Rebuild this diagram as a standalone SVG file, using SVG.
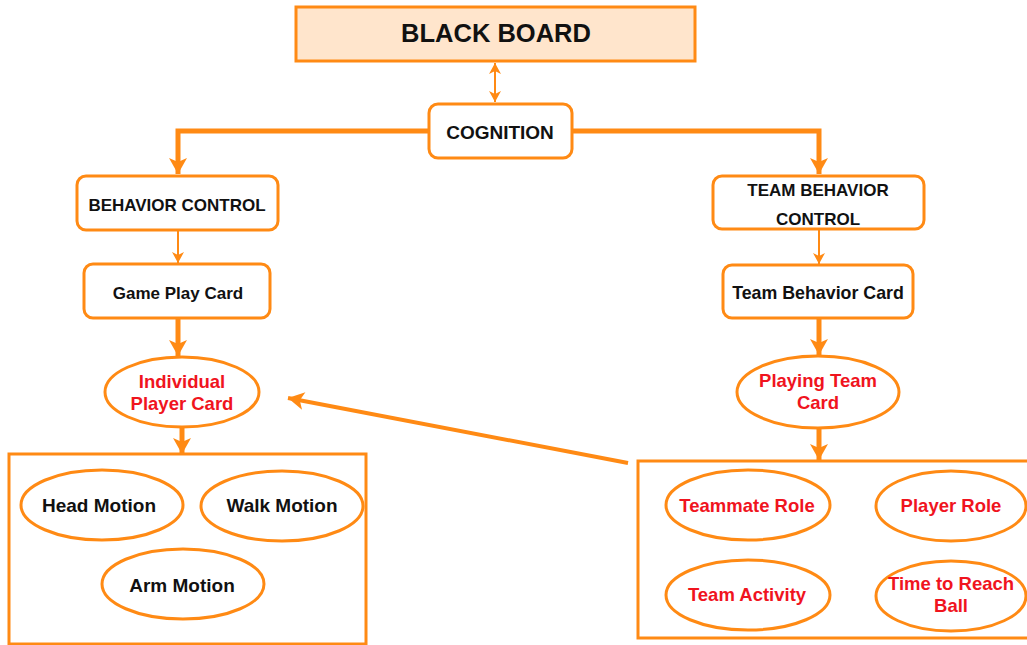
<svg xmlns="http://www.w3.org/2000/svg" width="1027" height="645" viewBox="0 0 1027 645">
  <style>
    .box { fill: #ffffff; stroke: #FF8A14; stroke-width: 3; }
    .bb { fill: #FFE5CC; stroke: #FF8A14; stroke-width: 3; }
    .ell { fill: #ffffff; stroke: #FF8A14; stroke-width: 3; }
    .frame { fill: none; stroke: #FF8A14; stroke-width: 3; }
    .t { font-family: "Liberation Sans", Arial, sans-serif; font-weight: bold; fill: #111111; text-anchor: middle; }
    .r { fill: #F0141E; }
    .thick { fill: none; stroke: #FF8A14; stroke-width: 5; }
    .thin { fill: none; stroke: #FF8A14; stroke-width: 2; }
    .mid { fill: none; stroke: #FF8A14; stroke-width: 4; }
    .head { fill: #FF8A14; }
  </style>
  <defs>
    <marker id="big" markerUnits="userSpaceOnUse" markerWidth="20" markerHeight="20" refX="17" refY="10" orient="auto">
      <path class="head" d="M1,1 L17,10 L1,19 L5,10 Z"/>
    </marker>
    <marker id="small" markerUnits="userSpaceOnUse" markerWidth="14" markerHeight="14" refX="11" refY="7" orient="auto">
      <path class="head" d="M0,1 L11,7 L0,13 L3,7 Z"/>
    </marker>
    <marker id="smallS" markerUnits="userSpaceOnUse" markerWidth="14" markerHeight="14" refX="11" refY="7" orient="auto-start-reverse">
      <path class="head" d="M0,1 L11,7 L0,13 L3,7 Z"/>
    </marker>
  </defs>

  <g id="connectors">
    <line class="thin" x1="495" y1="63" x2="495" y2="102" marker-start="url(#smallS)" marker-end="url(#small)"/>
    <polyline class="thick" points="429,131 178,131 178,174" marker-end="url(#big)"/>
    <polyline class="thick" points="572,131 819,131 819,174" marker-end="url(#big)"/>
    <line class="thin" x1="178" y1="230" x2="178" y2="263" marker-end="url(#small)"/>
    <line class="thin" x1="819" y1="229" x2="819" y2="264" marker-end="url(#small)"/>
    <line class="thick" x1="178" y1="318" x2="178" y2="356" marker-end="url(#big)"/>
    <line class="thick" x1="819" y1="318" x2="819" y2="355" marker-end="url(#big)"/>
    <line class="thick" x1="182" y1="428" x2="182" y2="454" marker-end="url(#big)"/>
    <line class="thick" x1="819" y1="428" x2="819" y2="460" marker-end="url(#big)"/>
    <line class="mid" x1="628" y1="463" x2="288" y2="398" marker-end="url(#big)"/>
  </g>

  <g id="blackboard">
    <rect class="bb" x="296" y="7" width="399" height="54"/>
    <text class="t" x="496" y="42" font-size="25.5">BLACK BOARD</text>
  </g>

  <g id="cognition">
    <rect class="box" x="429" y="104" width="143" height="54" rx="9"/>
    <text class="t" x="500" y="139" font-size="19">COGNITION</text>
  </g>

  <g id="behavior-control">
    <rect class="box" x="77" y="176" width="201" height="54" rx="9"/>
    <text class="t" x="177" y="211" font-size="17">BEHAVIOR CONTROL</text>
  </g>

  <g id="game-play-card">
    <rect class="box" x="84" y="264" width="186" height="54" rx="9"/>
    <text class="t" x="178" y="299" font-size="17">Game Play Card</text>
  </g>

  <g id="individual-player-card">
    <ellipse class="ell" cx="182" cy="392" rx="77" ry="35"/>
    <text class="t r" x="182" y="388" font-size="18.5">Individual</text>
    <text class="t r" x="182" y="410" font-size="18.5">Player Card</text>
  </g>

  <g id="motion-group">
    <rect class="frame" x="9" y="454" width="357" height="190"/>
  </g>
  <g id="head-motion">
    <ellipse class="ell" cx="102" cy="505" rx="81" ry="35"/>
    <text class="t" x="99" y="512" font-size="19">Head Motion</text>
  </g>
  <g id="walk-motion">
    <ellipse class="ell" cx="282" cy="506" rx="81" ry="35"/>
    <text class="t" x="282" y="512" font-size="19">Walk Motion</text>
  </g>
  <g id="arm-motion">
    <ellipse class="ell" cx="183" cy="584" rx="81" ry="35"/>
    <text class="t" x="182" y="592" font-size="19">Arm Motion</text>
  </g>

  <g id="team-behavior-control">
    <rect class="box" x="713" y="176" width="211" height="53" rx="9"/>
    <text class="t" x="818" y="196" font-size="17">TEAM BEHAVIOR</text>
    <text class="t" x="818" y="225" font-size="17">CONTROL</text>
  </g>

  <g id="team-behavior-card">
    <rect class="box" x="723" y="265" width="190" height="53" rx="9"/>
    <text class="t" x="818" y="299" font-size="17.8">Team Behavior Card</text>
  </g>

  <g id="playing-team-card">
    <ellipse class="ell" cx="818" cy="392" rx="81" ry="36"/>
    <text class="t r" x="818" y="387" font-size="18.5">Playing Team</text>
    <text class="t r" x="818" y="409" font-size="18.5">Card</text>
  </g>

  <g id="team-group">
    <rect class="frame" x="638" y="461" width="400" height="177"/>
  </g>
  <g id="teammate-role">
    <ellipse class="ell" cx="748" cy="505" rx="82" ry="35"/>
    <text class="t r" x="747" y="512" font-size="18.5">Teammate Role</text>
  </g>
  <g id="player-role">
    <ellipse class="ell" cx="951" cy="506" rx="75" ry="35"/>
    <text class="t r" x="951" y="512" font-size="18.5">Player Role</text>
  </g>
  <g id="team-activity">
    <ellipse class="ell" cx="748" cy="595" rx="82" ry="35"/>
    <text class="t r" x="747" y="601" font-size="18.5">Team Activity</text>
  </g>
  <g id="time-to-reach-ball">
    <ellipse class="ell" cx="951" cy="596" rx="75" ry="35"/>
    <text class="t r" x="951" y="590" font-size="18.5">Time to Reach</text>
    <text class="t r" x="951" y="612" font-size="18.5">Ball</text>
  </g>
</svg>
